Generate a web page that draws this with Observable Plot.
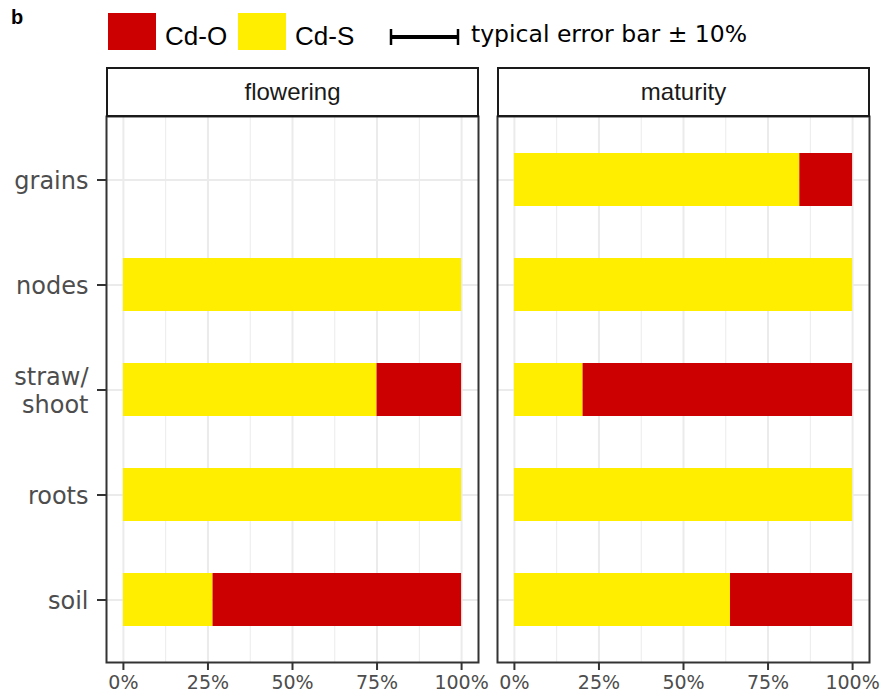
<!DOCTYPE html>
<html>
<head>
<meta charset="utf-8">
<script src="https://cdn.jsdelivr.net/npm/d3@7"></script>
<script src="https://cdn.jsdelivr.net/npm/@observablehq/plot@0.6"></script>
<style>
  html, body { margin: 0; padding: 0; background: white; }
  #chart { position: relative; width: 881px; height: 697px; overflow: hidden; background: white; }
  .abs { position: absolute; }
  .strip { position: absolute; box-sizing: border-box; border: 2px solid #1a1a1a; background: white;
           font-family: "Liberation Sans", Arial, sans-serif; font-size: 24px; color: #1a1a1a;
           display: flex; align-items: center; justify-content: center; }
  .leg { font-family: "Liberation Sans", Arial, sans-serif; font-size: 26px; color: #000; line-height: 1; white-space: nowrap; }
</style>
</head>
<body>
<div id="chart"></div>
<script>
const stages = ["flowering", "maturity"];
const compartments = ["grains", "nodes", "straw/shoot", "roots", "soil"];
const species = ["Cd-S", "Cd-O"];
const speciesColors = ["#FFEE00", "#CC0000"];
const floweringS = [null, 100, 75, 100, 26.5];
const floweringO = [null, 0, 25, 0, 73.5];
const maturityS = [84.4, 100, 20.3, 100, 63.9];
const maturityO = [15.6, 0, 79.7, 0, 36.1];
const majorTicks = [0, 25, 50, 75, 100];
const minorTicks = [12.5, 37.5, 62.5, 87.5];

const chart = document.getElementById("chart");

function rowsFor(S, O) {
  const rows = [];
  compartments.forEach((c, i) => {
    if (S[i] != null && S[i] > 0) rows.push({compartment: c, species: "Cd-S", value: S[i]});
    if (O[i] != null && O[i] > 0) rows.push({compartment: c, species: "Cd-O", value: O[i]});
  });
  return rows;
}

function makePanel(S, O, {width, marginLeft, marginRight, showY}) {
  const rows = rowsFor(S, O);
  return Plot.plot({
    width,
    height: 582,
    marginTop: 1,
    marginBottom: 35,
    marginLeft,
    marginRight,
    x: {domain: [-5, 105], axis: null},
    y: {domain: compartments, paddingInner: 0.5, paddingOuter: 0.35, axis: null},
    color: {domain: species, range: speciesColors},
    style: {fontFamily: "DejaVu Sans", background: "transparent", overflow: "visible"},
    marks: [
      Plot.ruleX(minorTicks, {stroke: "#ebebeb", strokeWidth: 1}),
      Plot.ruleX(majorTicks, {stroke: "#ebebeb", strokeWidth: 2}),
      Plot.ruleY(compartments, {stroke: "#ebebeb", strokeWidth: 2}),
      Plot.barX(rows, Plot.stackX({x: "value", y: "compartment", fill: "species"})),
      Plot.frame({stroke: "#333333", strokeWidth: 2}),
      Plot.axisX(majorTicks, {
        tickSize: 8, tickPadding: 5, stroke: "#333333", strokeWidth: 2,
        fill: "#4d4d4d", fontSize: 19, tickFormat: d => d + "%", label: null
      }),
      showY ? Plot.axisY({
        tickSize: 9, tickPadding: 9, stroke: "#333333", strokeWidth: 2,
        fill: "#4d4d4d", fontSize: 24, lineHeight: 1.15, label: null,
        tickFormat: d => d === "straw/shoot" ? "straw/\nshoot" : d
      }) : null
    ]
  });
}

const p1 = makePanel(floweringS, floweringO, {width: 488, marginLeft: 106, marginRight: 10, showY: true});
p1.classList.add("abs");
p1.style.left = "0px"; p1.style.top = "115px";
chart.appendChild(p1);

const p2 = makePanel(maturityS, maturityO, {width: 393, marginLeft: 9, marginRight: 12, showY: false});
p2.classList.add("abs");
p2.style.left = "488px"; p2.style.top = "115px";
chart.appendChild(p2);

// facet strips
[[106, stages[0]], [497, stages[1]]].forEach(([left, label]) => {
  const s = document.createElement("div");
  s.className = "strip";
  s.style.left = left + "px"; s.style.top = "67px"; s.style.width = "373px"; s.style.height = "50px";
  s.textContent = label;
  chart.appendChild(s);
});

// panel tag
const tag = document.createElement("div");
tag.className = "abs";
tag.style.cssText = "left:11px;top:7px;font-family:'Liberation Sans',Arial,sans-serif;font-weight:bold;font-size:20px;line-height:1;color:#000;";
tag.textContent = "b";
chart.appendChild(tag);

// legend
function addSwatch(left, color) {
  const d = document.createElement("div");
  d.className = "abs";
  d.style.cssText = `left:${left}px;top:13px;width:48px;height:37px;background:${color};`;
  chart.appendChild(d);
}
function addText(left, top, text, font, size) {
  const d = document.createElement("div");
  d.className = "abs leg";
  d.style.left = left + "px"; d.style.top = top + "px";
  d.style.fontFamily = font; d.style.fontSize = size + "px";
  d.textContent = text;
  chart.appendChild(d);
}
addSwatch(108, speciesColors[1]);
addText(165, 23, species[1], "'Liberation Sans', Arial, sans-serif", 26);
addSwatch(238, speciesColors[0]);
addText(295, 23, species[0], "'Liberation Sans', Arial, sans-serif", 26);

// typical error bar glyph
const eb = document.createElementNS("http://www.w3.org/2000/svg", "svg");
eb.setAttribute("width", "74"); eb.setAttribute("height", "20");
eb.style.cssText = "position:absolute;left:388px;top:27px;overflow:visible;";
eb.innerHTML = '<line x1="2" x2="71" y1="10" y2="10" stroke="#000" stroke-width="4"/>' +
  '<line x1="3" x2="3" y1="2" y2="18" stroke="#000" stroke-width="2.5"/>' +
  '<line x1="70" x2="70" y1="2" y2="18" stroke="#000" stroke-width="2.5"/>';
chart.appendChild(eb);
addText(471, 23, "typical error bar ± 10%", "'DejaVu Sans', sans-serif", 23.5);
</script>
</body>
</html>
